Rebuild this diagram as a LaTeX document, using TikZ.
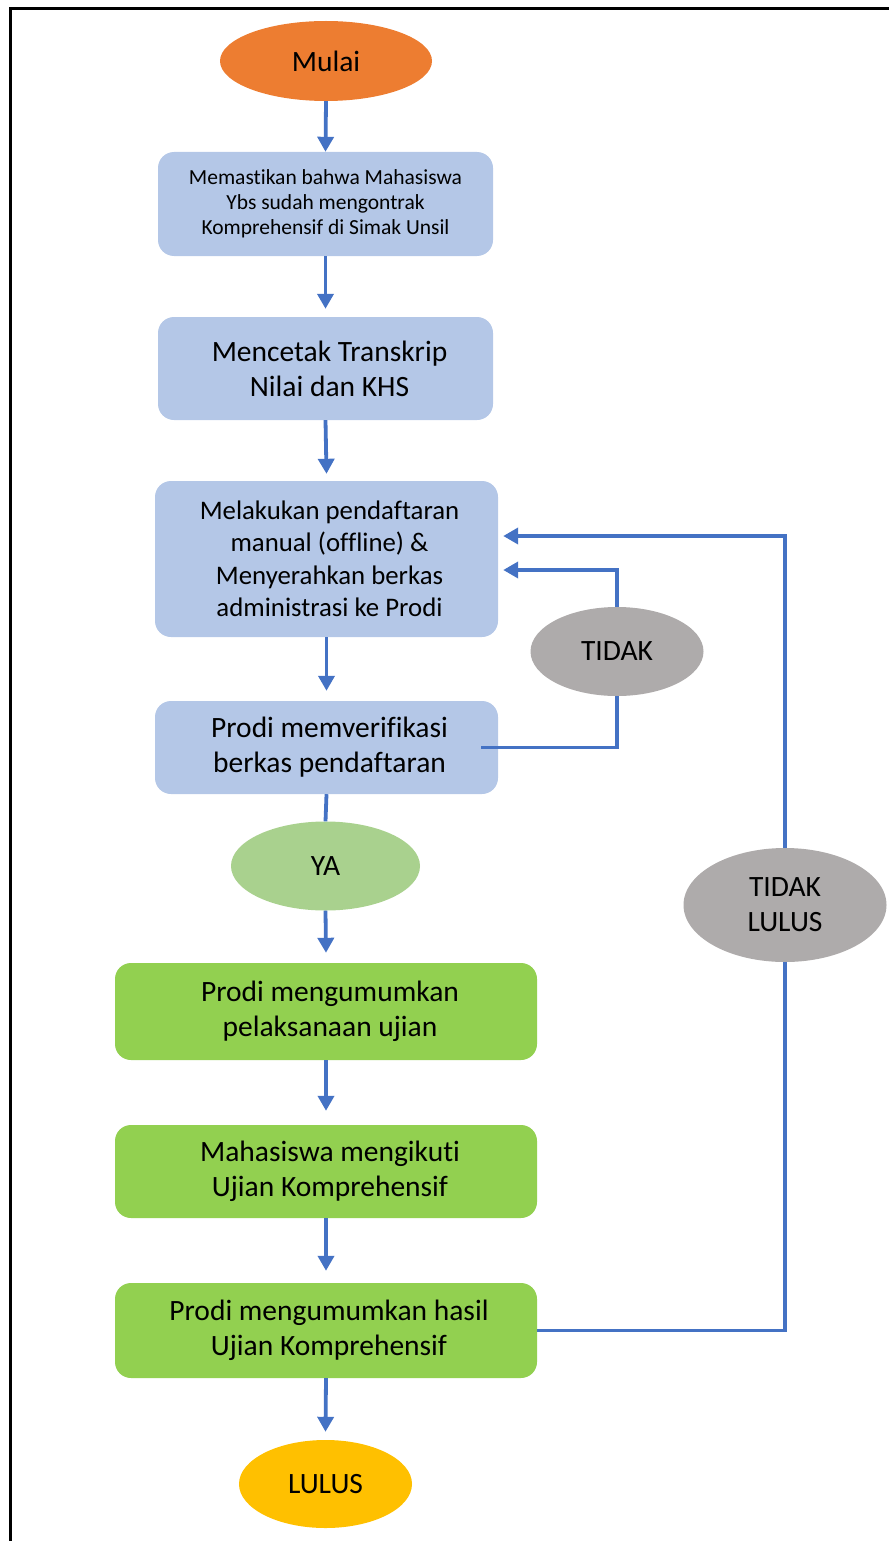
\documentclass[tikz,border=0pt]{standalone}
\usepackage{fontspec}
\setmainfont{Carlito}[Ligatures={NoCommon}]
\usetikzlibrary{shapes.geometric,arrows.meta,calc}
\definecolor{boxblue}{HTML}{B4C7E7}
\definecolor{boxgreen}{HTML}{92D050}
\definecolor{startorange}{HTML}{ED7D31}
\definecolor{yagreen}{HTML}{A9D18E}
\definecolor{nogray}{HTML}{AEABAB}
\definecolor{endyellow}{HTML}{FFC000}
\definecolor{linkblue}{HTML}{4472C4}
\tikzset{
  bigtext/.style={font=\fontsize{29.5}{35}\selectfont},
  midtext/.style={font=\fontsize{26.8}{32.5}\selectfont},
  smalltext/.style={font=\fontsize{21.5}{25}\selectfont},
  procbox/.style={rectangle, rounded corners=16pt, draw=none, inner sep=0pt, align=center, bigtext},
  blueproc/.style={procbox, fill=boxblue},
  greenproc/.style={procbox, fill=boxgreen},
  oval/.style={ellipse, draw=none, inner sep=0pt, align=center, bigtext},
  flow/.style={draw=linkblue, line width=3.8pt, -{Triangle[width=16pt,length=15pt]}},
  plainflow/.style={draw=linkblue, line width=3.8pt},
}
\begin{document}
\begin{tikzpicture}[x=1pt,y=-1pt]
\useasboundingbox (0,0) rectangle (889,1541);
% frame
\draw[line width=3pt, black] (10.5,1541) -- (10.5,8.5) -- (889,8.5);

\node[oval, fill=startorange, minimum width=212pt, minimum height=80pt] (mulai) at (326,61) {Mulai};

\node[blueproc, smalltext, minimum width=335pt, minimum height=104pt] (b1) at (325.5,204)
  {Memastikan bahwa Mahasiswa\\Ybs sudah mengontrak\\Komprehensif di Simak Unsil};

\node[blueproc, minimum width=335pt, minimum height=103pt] (b2) at (325.5,368.5)
  {\hspace*{8pt}Mencetak Transkrip\\\hspace*{8pt}Nilai dan KHS};

\node[blueproc, midtext, minimum width=343pt, minimum height=156pt] (b3) at (326.5,559)
  {\hspace*{6pt}Melakukan pendaftaran\\\hspace*{6pt}manual (offline) \&\\\hspace*{6pt}Menyerahkan berkas\\\hspace*{6pt}administrasi ke Prodi};

\node[blueproc, minimum width=343pt, minimum height=93pt] (b4) at (326.5,747.5)
  {\hspace*{6pt}Prodi memverifikasi\\\hspace*{6pt}berkas pendaftaran};

\node[oval, fill=yagreen, minimum width=189pt, minimum height=89pt] (ya) at (325.5,866) {YA};

\node[greenproc, minimum width=422pt, minimum height=97pt] (b5) at (326,1011.5)
  {\hspace*{8pt}Prodi mengumumkan\\\hspace*{8pt}pelaksanaan ujian};

\node[greenproc, minimum width=422pt, minimum height=93pt] (b6) at (326,1171.5)
  {\hspace*{8pt}Mahasiswa mengikuti\\\hspace*{8pt}Ujian Komprehensif};

\node[greenproc, minimum width=422pt, minimum height=95pt] (b7) at (326,1330.5)
  {\hspace*{6pt}Prodi mengumumkan hasil\\\hspace*{6pt}Ujian Komprehensif};

\node[oval, fill=endyellow, minimum width=173pt, minimum height=88pt] (lulus) at (325.5,1484) {LULUS};

\node[oval, fill=nogray, minimum width=173pt, minimum height=89pt] (tidak) at (617,651.5) {TIDAK};

\node[oval, fill=nogray, minimum width=203pt, minimum height=114pt] (tl) at (785,905) {TIDAK\\LULUS};

% main flow
\draw[flow] (mulai.south) -- (b1.north);
\draw[flow] (b1.south) -- ($(b2.north)+(0,-8)$);
\draw[flow] (b2.south) -- ($(b3.north)+(0,-7)$);
\draw[flow] (b3.south) -- ($(b4.north)+(0,-10)$);
\draw[plainflow] (b4.south) -- (ya.north);
\draw[flow] (ya.south) -- ($(b5.north)+(0,-10)$);
\draw[flow] (b5.south) -- ($(b6.north)+(0,-14)$);
\draw[flow] (b6.south) -- ($(b7.north)+(0,-12)$);
\draw[flow] (b7.south) -- ($(lulus.north)+(0,-8)$);

% TIDAK loop
\draw[plainflow] ($(b4.east)+(-17,0)$) -| (tidak.south);
\draw[flow] (tidak.north) |- ($(b3.east)+(5,11)$);

% TIDAK LULUS loop
\draw[plainflow] (b7.east) -| (tl.south);
\draw[flow] (tl.north) |- ($(b3.east)+(5,-23)$);
\end{tikzpicture}
\end{document}
